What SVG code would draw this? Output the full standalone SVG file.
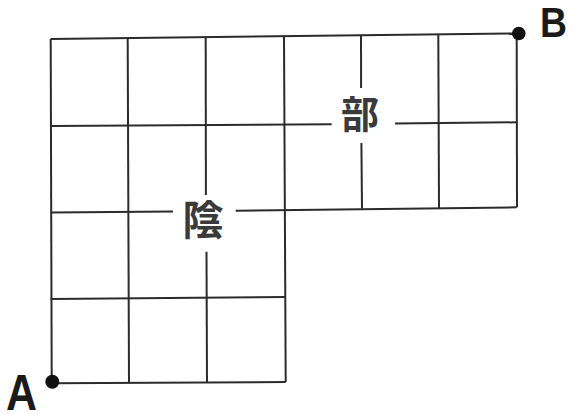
<svg xmlns="http://www.w3.org/2000/svg" width="569" height="414" viewBox="0 0 569 414">
<style>
.g line{stroke:#2b2b2b;stroke-width:2;stroke-linecap:butt;fill:none}
.cjk{font-family:"Noto Sans CJK JP","Noto Sans CJK SC",sans-serif;font-weight:700;fill:#3a3a3a;text-anchor:middle}
.pt{font-family:"Liberation Sans",Arial,sans-serif;font-weight:700;fill:#1a1a1a}
.dot{fill:#111}
</style>
<rect width="569" height="414" fill="#fff"/>
<g id="connectors" class="g">
<line x1="50.7" y1="39" x2="516.7" y2="33.5"/>
<line x1="50.7" y1="126" x2="331.7" y2="124.2"/>
<line x1="395" y1="123.5" x2="516.7" y2="122.3"/>
<line x1="50.7" y1="212.5" x2="173" y2="211.4"/>
<line x1="235.7" y1="210.7" x2="516.7" y2="207.3"/>
<line x1="50.7" y1="299" x2="285.7" y2="297"/>
<line x1="51.7" y1="383.3" x2="285.7" y2="382"/>
<line x1="50.7" y1="39" x2="51.7" y2="383.3"/>
<line x1="127.7" y1="38.2" x2="129" y2="383"/>
<line x1="205.7" y1="37.5" x2="205.9" y2="195"/>
<line x1="206.5" y1="251.7" x2="207" y2="382.5"/>
<line x1="284" y1="36.7" x2="285.7" y2="382"/>
<line x1="361" y1="35.5" x2="361.1" y2="88"/>
<line x1="361.4" y1="143" x2="362" y2="208.5"/>
<line x1="438.3" y1="34.5" x2="439" y2="208"/>
<line x1="516.7" y1="33.5" x2="517" y2="207.3"/>
</g>
<g id="label-bu"><text class="cjk" x="360" y="128" font-size="38">部</text></g>
<g id="label-in"><text class="cjk" x="203" y="235" font-size="41">陰</text></g>
<g id="node-A">
<circle class="dot" cx="52.3" cy="381.7" r="7"/>
<text class="pt" x="6" y="410" font-size="50" textLength="31" lengthAdjust="spacingAndGlyphs">A</text>
</g>
<g id="node-B">
<circle class="dot" cx="518.8" cy="33.5" r="6.8"/>
<text class="pt" x="540" y="37.3" font-size="42" textLength="27" lengthAdjust="spacingAndGlyphs">B</text>
</g>
</svg>
